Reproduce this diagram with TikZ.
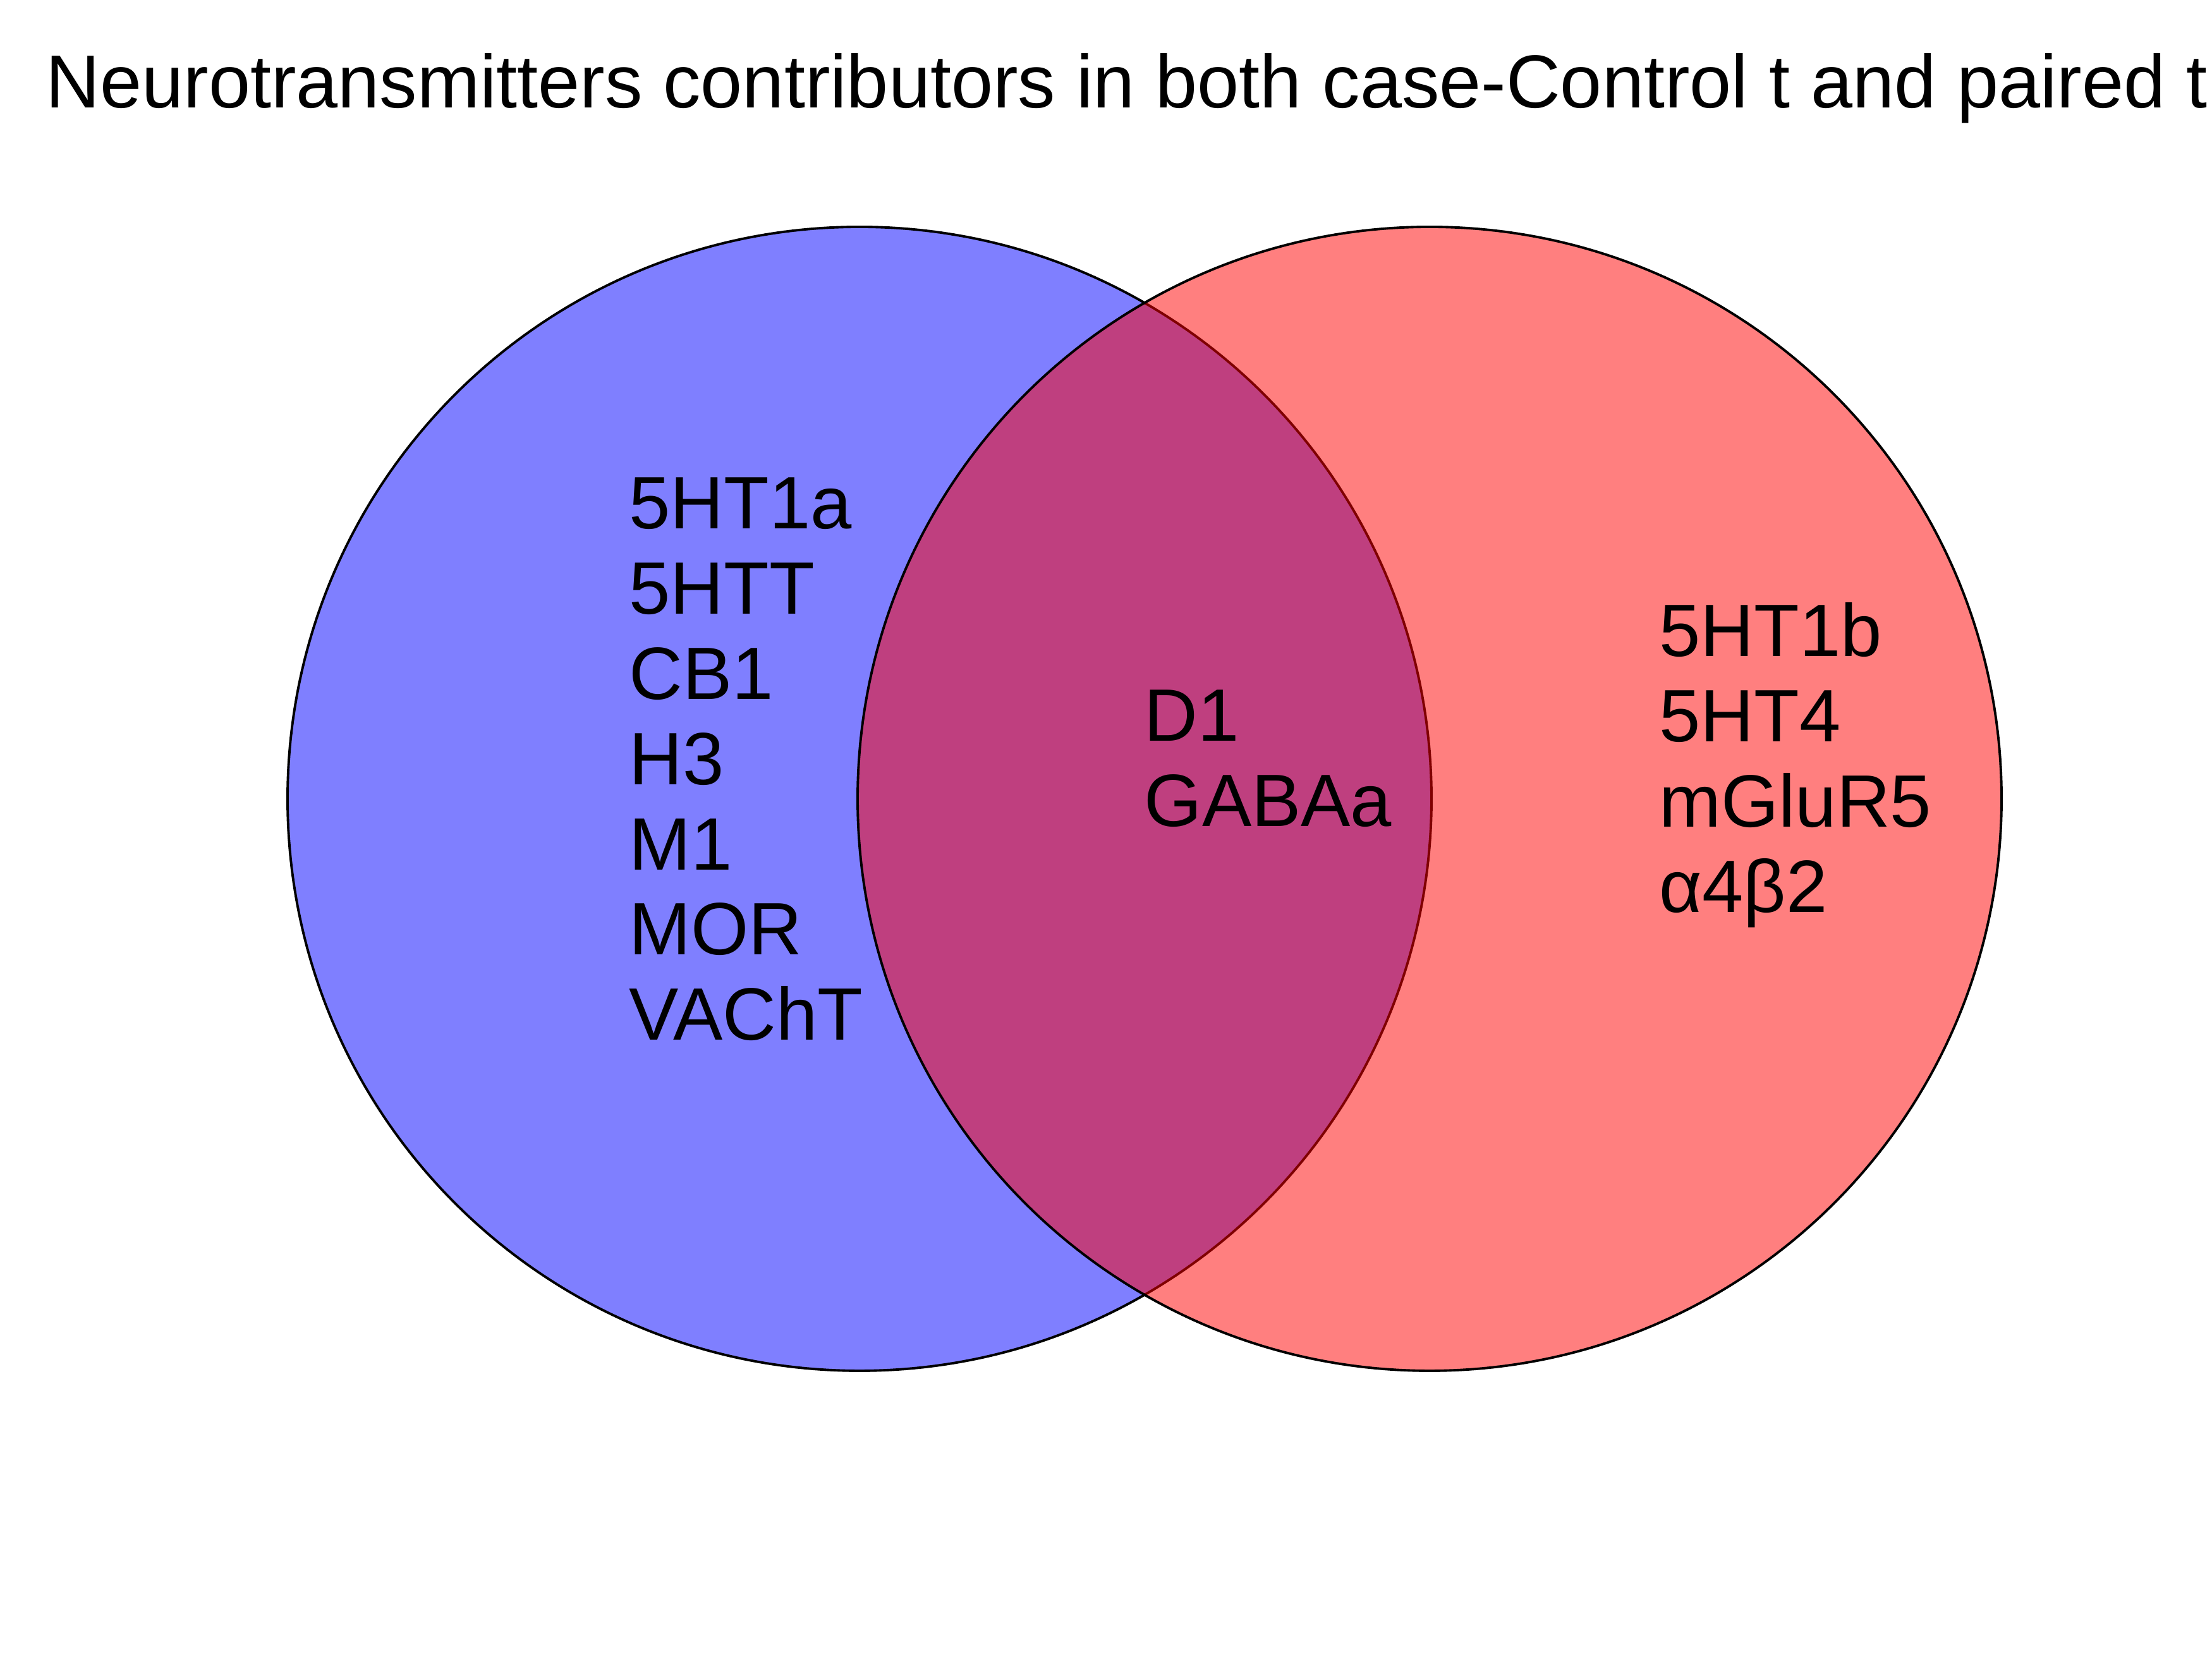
\documentclass[tikz,border=0pt]{standalone}
\usepackage{fontspec}
\setmainfont{Liberation Sans}
\usetikzlibrary{positioning}

\begin{document}
\begin{tikzpicture}[
    setA/.style={circle, draw=black, line width=1.1pt, fill=blue, fill opacity=0.5, draw opacity=1, minimum size=18.1cm, inner sep=0pt},
    setB/.style={circle, draw=black, line width=1.1pt, fill=red, fill opacity=0.5, draw opacity=1, minimum size=18.1cm, inner sep=0pt},
    lbl/.style={anchor=base west, inner sep=0pt, font=\fontsize{33.4pt}{38pt}\selectfont},
]
    % fond et cadre
    \useasboundingbox (0,0) rectangle (35,26.25);
    \fill[white] (0,0) rectangle (35,26.25);

    % titre
    \node[lbl, font=\fontsize{33.8pt}{38pt}\selectfont] (titre) at (0.72,24.54) {Neurotransmitters contributors in both case-Control t and paired t};

    % les deux ensembles
    \node[setA] (A) at (13.60,13.61) {};
    \node[setB] (B) at (22.62,13.61) {};

    % uniquement A
    \foreach \t [count=\i] in {5HT1a,5HTT,CB1,H3,M1,MOR,VAChT}
        \node[lbl] (a\i) at (9.95,{17.88-1.348*(\i-1)}) {\t};

    % A et B
    \foreach \t [count=\i] in {D1,GABAa}
        \node[lbl] (ab\i) at (18.10,{14.52-1.348*(\i-1)}) {\t};

    % uniquement B
    \foreach \t [count=\i] in {5HT1b,5HT4,mGluR5,α4β2}
        \node[lbl] (b\i) at (26.25,{15.86-1.348*(\i-1)}) {\t};
\end{tikzpicture}
\end{document}
